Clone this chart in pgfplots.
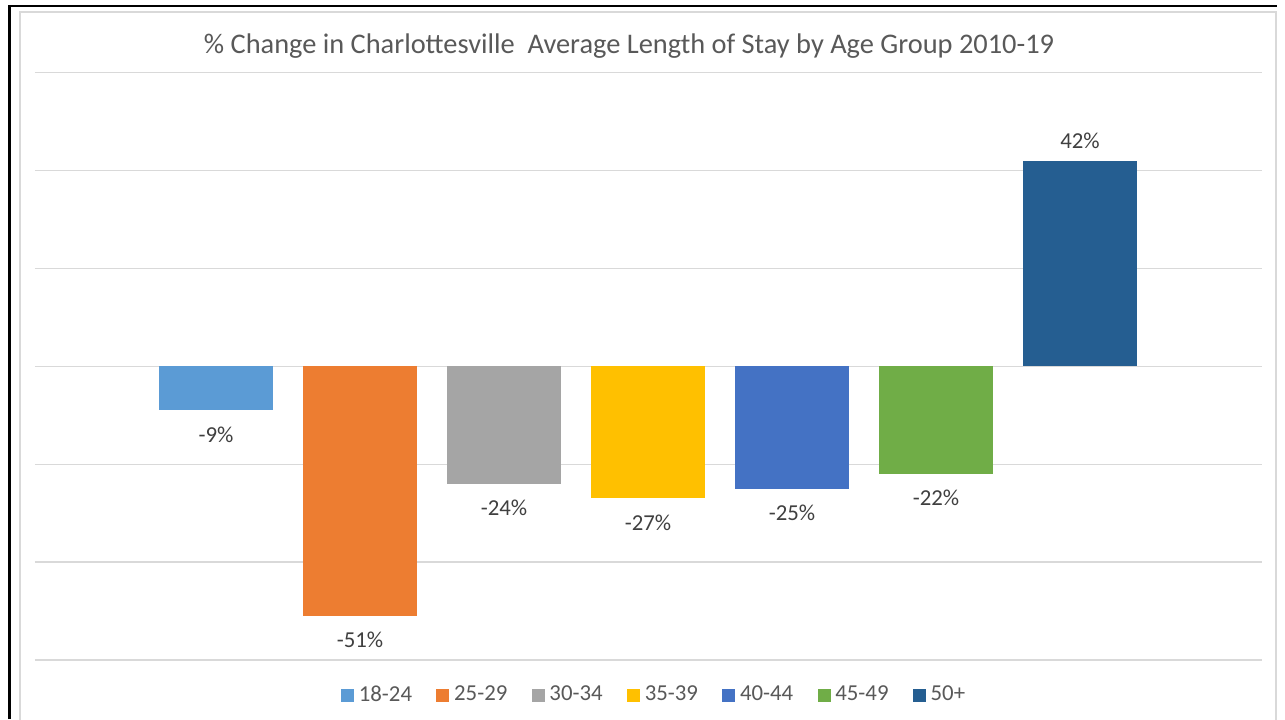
\documentclass[border=0pt]{standalone}
\usepackage{pgfplots}
\pgfplotsset{compat=1.18}
\usepackage{fontspec}
\setmainfont{Carlito}
\definecolor{c1}{HTML}{5B9BD5}
\definecolor{c2}{HTML}{ED7D31}
\definecolor{c3}{HTML}{A5A5A5}
\definecolor{c4}{HTML}{FFC000}
\definecolor{c5}{HTML}{4472C4}
\definecolor{c6}{HTML}{70AD47}
\definecolor{c7}{HTML}{255E91}
\definecolor{gridc}{HTML}{D9D9D9}
\definecolor{titlec}{HTML}{595959}
\definecolor{labc}{HTML}{404040}
\begin{document}
\begin{tikzpicture}[x=0.5pt,y=-0.5pt]
\useasboundingbox (0,0) rectangle (1285,719);
\fill[white] (0,0) rectangle (1285,719);
\draw[gridc, line width=0.75pt] (20,12) rectangle (1276,740);
\draw[black, line width=1.4pt] (9.5,719) -- (9.5,6) -- (1277,6);
\node[anchor=base, font=\fontsize{14.2}{17}\selectfont, text=titlec, inner sep=0pt] at (629,53)
  {\% Change in Charlottesville\ \ Average Length of Stay by Age Group 2010-19};
\begin{axis}[
  at={(17.5pt,-330pt)}, anchor=south west,
  scale only axis, width=613.5pt, height=293.8pt,
  ybar, bar width=57pt,
  xmin=-1.257, xmax=7.264, ymin=-60, ymax=60,
  axis line style={draw=none},
  xtick=\empty, ytick={-60,-40,...,60}, yticklabels={}, major tick length=0pt,
  ymajorgrids, grid style={gridc, line width=0.6pt},
  point meta=explicit symbolic,
  nodes near coords,
  every node near coord/.append style={font=\fontsize{11.4}{13}\selectfont, text=labc, inner sep=0pt},
  clip=false,
  sq/.style={legend image code/.code={\fill[##1] (0pt,-3.25pt) rectangle (6.5pt,3.25pt);}},
  neg/.style={every node near coord/.append style={anchor=north, yshift=-8pt}},
  pos/.style={every node near coord/.append style={anchor=south, yshift=5.5pt}},
  legend columns=-1,
  legend style={at={(0.5,0)}, anchor=center, xshift=3.5pt, yshift=-17.5pt, draw=none, fill=none,
    font=\fontsize{11.4}{13}\selectfont, text=titlec,
    /tikz/every even column/.append style={column sep=9.75pt},
    nodes={inner xsep=2.4pt, inner ysep=1pt}},
]
\addplot[fill=c1, draw=none, bar shift=0pt, sq, neg] coordinates {(0,-9) [-9\%]};
\addplot[fill=c2, draw=none, bar shift=0pt, sq, neg] coordinates {(1,-51) [-51\%]};
\addplot[fill=c3, draw=none, bar shift=0pt, sq, neg] coordinates {(2,-24) [-24\%]};
\addplot[fill=c4, draw=none, bar shift=0pt, sq, neg] coordinates {(3,-27) [-27\%]};
\addplot[fill=c5, draw=none, bar shift=0pt, sq, neg] coordinates {(4,-25) [-25\%]};
\addplot[fill=c6, draw=none, bar shift=0pt, sq, neg] coordinates {(5,-22) [-22\%]};
\addplot[fill=c7, draw=none, bar shift=0pt, sq, pos] coordinates {(6,42) [42\%]};
\legend{18-24,25-29,30-34,35-39,40-44,45-49,50+}
\end{axis}
\end{tikzpicture}
\end{document}
